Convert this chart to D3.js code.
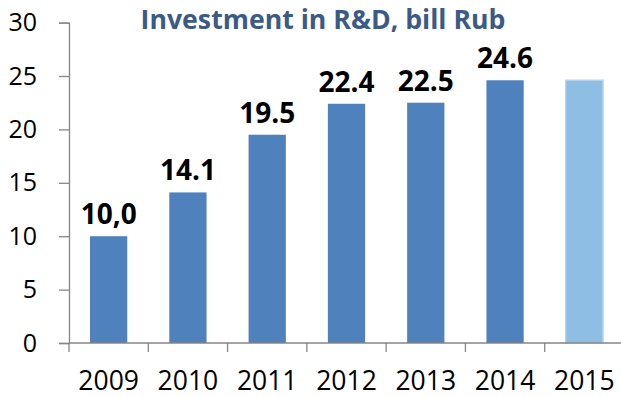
<!DOCTYPE html>
<html><head><meta charset="utf-8">
<script src="https://cdn.jsdelivr.net/npm/d3@7"></script>
<style>body{margin:0;background:#fff}svg{display:block}</style>
</head><body>
<script>
const categories = ["2009","2010","2011","2012","2013","2014","2015"];
const values = [10.0, 14.1, 19.5, 22.4, 22.5, 24.6, 24.6];
const valueLabels = ["10,0","14.1","19.5","22.4","22.5","24.6",""];
const yTicks = [0,5,10,15,20,25,30];
const title = "Investment in R&D, bill Rub";

const W = 621, H = 397;
const svg = d3.select("body").append("svg").attr("width", W).attr("height", H);
const font = "'Open Sans', sans-serif";

const x = d3.scaleBand().domain(categories).range([69, 624]).paddingInner(0.53).paddingOuter(0.265);
const y = d3.scaleLinear().domain([0, 30]).range([343, 22.6]);

// bars
svg.selectAll("rect.bar").data(categories).enter().append("rect")
  .attr("x", d => x(d)).attr("width", x.bandwidth())
  .attr("y", (d,i) => y(values[i])).attr("height", (d,i) => y(0) - y(values[i]))
  .attr("fill", (d,i) => i === categories.length - 1 ? "#8EBEE3" : "#4F81BD")
  .attr("stroke", (d,i) => i === categories.length - 1 ? "#B3D3EE" : "none")
  .attr("stroke-width", 1.5);

// y axis
const ya = svg.append("g").attr("transform", "translate(69,0)")
  .call(d3.axisLeft(y).tickValues(yTicks).tickSize(10).tickPadding(22).tickFormat(d3.format("d")));
ya.select(".domain").attr("stroke", "#868686").attr("stroke-width", 1.3);
ya.selectAll(".tick line").attr("stroke", "#868686").attr("stroke-width", 1.3);
ya.selectAll("text").attr("font-family", font).attr("font-size", 25).attr("fill", "#000");

// x axis
const xa = svg.append("g").attr("transform", `translate(0,${y(0)})`);
xa.append("line").attr("x1", 69).attr("x2", W).attr("stroke", "#868686").attr("stroke-width", 1.3);
const step = x.step();
const bounds = d3.range(categories.length + 1).map(i => x.range()[0] + i * step);
xa.selectAll("line.tk").data(bounds).enter().append("line")
  .attr("x1", d => d).attr("x2", d => d).attr("y1", 0).attr("y2", 9)
  .attr("stroke", "#868686").attr("stroke-width", 1.3);
xa.selectAll("text").data(categories).enter().append("text")
  .attr("x", d => x(d) + x.bandwidth()/2).attr("y", 46.5)
  .attr("text-anchor", "middle").attr("font-family", font).attr("font-size", 26.5).attr("fill", "#000")
  .text(d => d);

// value labels
svg.selectAll("text.val").data(categories).enter().append("text")
  .attr("x", d => x(d) + x.bandwidth()/2).attr("y", (d,i) => y(values[i]) - 12)
  .attr("text-anchor", "middle").attr("font-family", font).attr("font-weight", "bold")
  .attr("font-size", 28).attr("fill", "#000")
  .text((d,i) => valueLabels[i]);

// title
const t = svg.append("text").attr("x", 323).attr("y", 29).attr("text-anchor", "middle")
  .attr("font-family", font).attr("font-weight", "bold").attr("font-size", 22)
  .attr("fill", "#3B5B86").text(title);
const len = t.node().getComputedTextLength();
t.attr("font-size", 22 * 365 / len);
</script>
</body></html>
